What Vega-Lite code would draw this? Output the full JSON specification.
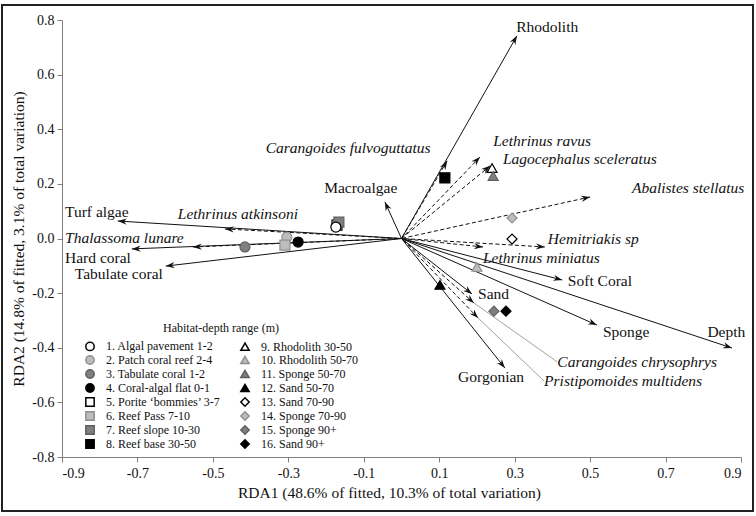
{
  "$schema": "https://vega.github.io/schema/vega-lite/v6.json",
  "width": 751,
  "height": 506,
  "autosize": {"type": "none"},
  "padding": {"left": 2, "top": 5, "right": 3, "bottom": 5},
  "background": "white",
  "config": {
    "view": {"stroke": "#222222", "strokeWidth": 2},
    "font": "Liberation Serif",
    "axis": {
      "grid": false,
      "domainColor": "#808080",
      "tickColor": "#808080",
      "tickSize": 5,
      "labelFont": "Liberation Serif",
      "labelFontSize": 14,
      "labelColor": "#111111",
      "titleFont": "Liberation Serif",
      "titleFontSize": 15.5,
      "titleFontWeight": "normal",
      "titleColor": "#111111"
    }
  },
  "datasets": {
    "vectors": [
      {"name": "Rhodolith", "kind": "env", "x": 0.306, "y": 0.742, "lx": 0.304, "ly": 0.775, "leader": false},
      {"name": "Macroalgae", "kind": "env", "x": -0.044, "y": 0.134, "lx": -0.205, "ly": 0.185, "leader": false},
      {"name": "Turf algae", "kind": "env", "x": -0.752, "y": 0.064, "lx": -0.892, "ly": 0.097, "leader": false},
      {"name": "Hard coral", "kind": "env", "x": -0.715, "y": -0.038, "lx": -0.892, "ly": -0.071, "leader": false},
      {"name": "Tabulate coral", "kind": "env", "x": -0.625, "y": -0.101, "lx": -0.866, "ly": -0.13, "leader": false},
      {"name": "Soft Coral", "kind": "env", "x": 0.426, "y": -0.152, "lx": 0.441, "ly": -0.156, "leader": false},
      {"name": "Sponge", "kind": "env", "x": 0.518, "y": -0.317, "lx": 0.534, "ly": -0.342, "leader": false},
      {"name": "Depth", "kind": "env", "x": 0.876, "y": -0.401, "lx": 0.811, "ly": -0.342, "leader": false},
      {"name": "Gorgonian", "kind": "env", "x": 0.274, "y": -0.474, "lx": 0.15, "ly": -0.507, "leader": false},
      {"name": "Sand", "kind": "env", "x": 0.187, "y": -0.203, "lx": 0.203, "ly": -0.203, "leader": false},
      {"name": "Carangoides fulvoguttatus", "kind": "species", "x": 0.121, "y": 0.284, "lx": -0.36, "ly": 0.332, "leader": false},
      {"name": "Lethrinus ravus", "kind": "species", "x": 0.208, "y": 0.298, "lx": 0.243, "ly": 0.357, "leader": false},
      {"name": "Lagocephalus sceleratus", "kind": "species", "x": 0.235, "y": 0.266, "lx": 0.269, "ly": 0.291, "leader": false},
      {"name": "Abalistes stellatus", "kind": "species", "x": 0.5, "y": 0.152, "lx": 0.611, "ly": 0.185, "leader": false},
      {"name": "Hemitriakis sp", "kind": "species", "x": 0.38, "y": -0.031, "lx": 0.388, "ly": 0.0, "leader": false},
      {"name": "Lethrinus miniatus", "kind": "species", "x": 0.216, "y": -0.031, "lx": 0.216, "ly": -0.07, "leader": false},
      {"name": "Lethrinus atkinsoni", "kind": "species", "x": -0.468, "y": 0.035, "lx": -0.593, "ly": 0.09, "leader": false},
      {"name": "Thalassoma lunare", "kind": "species", "x": -0.553, "y": -0.031, "lx": -0.892, "ly": 0.002, "leader": false},
      {"name": "Carangoides chrysophrys", "kind": "species", "x": 0.192, "y": -0.236, "lx": 0.413, "ly": -0.452, "leader": true},
      {"name": "Pristipomoides multidens", "kind": "species", "x": 0.203, "y": -0.291, "lx": 0.378, "ly": -0.522, "leader": true}
    ],
    "sites": [
      {"site": "5. Porite ‘bommies’ 3-7", "x": -0.171, "y": 0.049},
      {"site": "7. Reef slope 10-30", "x": -0.166, "y": 0.06},
      {"site": "1. Algal pavement 1-2", "x": -0.174, "y": 0.042},
      {"site": "2. Patch coral reef 2-4", "x": -0.304, "y": 0.005},
      {"site": "6. Reef Pass 7-10", "x": -0.309, "y": -0.024},
      {"site": "4. Coral-algal flat 0-1", "x": -0.274, "y": -0.013},
      {"site": "3. Tabulate coral 1-2", "x": -0.415, "y": -0.031},
      {"site": "8. Reef base 30-50", "x": 0.115, "y": 0.222},
      {"site": "9. Rhodolith 30-50", "x": 0.24, "y": 0.258},
      {"site": "11. Sponge 50-70", "x": 0.243, "y": 0.229},
      {"site": "10. Rhodolith 50-70", "x": 0.2, "y": -0.104},
      {"site": "12. Sand 50-70", "x": 0.102, "y": -0.17},
      {"site": "13. Sand 70-90", "x": 0.293, "y": -0.002},
      {"site": "14. Sponge 70-90", "x": 0.293, "y": 0.075},
      {"site": "15. Sponge 90+", "x": 0.245, "y": -0.266},
      {"site": "16. Sand 90+", "x": 0.277, "y": -0.266}
    ]
  },
  "layer": [
    {
      "data": {"name": "vectors"},
      "transform": [{"filter": "datum.kind === 'env'"}],
      "mark": {"type": "rule", "color": "#111111", "strokeWidth": 1},
      "encoding": {
        "x": {
          "field": "x", "type": "quantitative",
          "scale": {"domain": [-0.9, 0.9], "range": [60, 739], "nice": false, "zero": false},
          "axis": {
            "title": "RDA1 (48.6% of fitted, 10.3% of total variation)",
            "values": [-0.9, -0.7, -0.5, -0.3, -0.1, 0.1, 0.3, 0.5, 0.7, 0.9],
            "labelExpr": "replace(format(datum.value, '.1f'), '\u2212', '-')",
            "offset": -54,
            "labelPadding": 4,
            "titlePadding": 5,
            "titleX": 387
          }
        },
        "x2": {"datum": 0},
        "y": {
          "field": "y", "type": "quantitative",
          "scale": {"domain": [-0.8, 0.8], "range": [452, 15], "nice": false, "zero": false},
          "axis": {
            "title": "RDA2 (14.8% of fitted, 3.1% of total variation)",
            "values": [-0.8, -0.6, -0.4, -0.2, 0, 0.2, 0.4, 0.6, 0.8],
            "labelExpr": "replace(format(datum.value, '.1f'), '\u2212', '-')",
            "offset": -60,
            "labelPadding": 3,
            "titlePadding": 5
          }
        },
        "y2": {"datum": 0}
      }
    },
    {
      "data": {"name": "vectors"},
      "transform": [{"filter": "datum.kind === 'species'"}],
      "mark": {"type": "rule", "color": "#111111", "strokeWidth": 1, "strokeDash": [4, 2.5]},
      "encoding": {
        "x": {"field": "x", "type": "quantitative"},
        "x2": {"datum": 0},
        "y": {"field": "y", "type": "quantitative"},
        "y2": {"datum": 0}
      }
    },
    {
      "data": {"name": "vectors"},
      "transform": [{"filter": "datum.leader"}],
      "mark": {"type": "rule", "color": "#8a8a8a", "strokeWidth": 0.8},
      "encoding": {
        "x": {"field": "x", "type": "quantitative"},
        "x2": {"field": "lx"},
        "y": {"field": "y", "type": "quantitative"},
        "y2": {"field": "ly"}
      }
    },
    {
      "data": {"name": "vectors"},
      "transform": [{"calculate": "atan2(datum.x * 377.2, datum.y * 273) * 180 / PI", "as": "ang"}],
      "mark": {"type": "point", "shape": "M0,0L-0.6,1.7L0,1.15L0.6,1.7Z", "filled": true, "color": "#111111", "size": 110, "opacity": 1, "strokeWidth": 0},
      "encoding": {
        "x": {"field": "x", "type": "quantitative"},
        "y": {"field": "y", "type": "quantitative"},
        "angle": {"field": "ang", "type": "quantitative", "scale": null}
      }
    },
    {
      "data": {"name": "vectors"},
      "transform": [{"filter": "datum.kind === 'env'"}],
      "mark": {"type": "text", "align": "left", "baseline": "middle", "fontSize": 15.5, "font": "Liberation Serif", "color": "#111111"},
      "encoding": {
        "x": {"field": "lx", "type": "quantitative"},
        "y": {"field": "ly", "type": "quantitative"},
        "text": {"field": "name"}
      }
    },
    {
      "data": {"name": "vectors"},
      "transform": [{"filter": "datum.kind === 'species'"}],
      "mark": {"type": "text", "align": "left", "baseline": "middle", "fontSize": 15.5, "font": "Liberation Serif", "fontStyle": "italic", "color": "#111111"},
      "encoding": {
        "x": {"field": "lx", "type": "quantitative"},
        "y": {"field": "ly", "type": "quantitative"},
        "text": {"field": "name"}
      }
    },
    {
      "data": {"name": "sites"},
      "mark": {"type": "point", "filled": true, "size": 100, "strokeWidth": 1.2, "opacity": 1},
      "encoding": {
        "x": {"field": "x", "type": "quantitative"},
        "y": {"field": "y", "type": "quantitative"},
        "shape": {
          "field": "site", "type": "nominal",
          "scale": {
            "domain": ["1. Algal pavement 1-2", "2. Patch coral reef 2-4", "3. Tabulate coral 1-2", "4. Coral-algal flat 0-1", "5. Porite ‘bommies’ 3-7", "6. Reef Pass 7-10", "7. Reef slope 10-30", "8. Reef base 30-50", "9. Rhodolith 30-50", "10. Rhodolith 50-70", "11. Sponge 50-70", "12. Sand 50-70", "13. Sand 70-90", "14. Sponge 70-90", "15. Sponge 90+", "16. Sand 90+"],
            "range": ["circle", "circle", "circle", "circle", "square", "square", "square", "square", "triangle-up", "triangle-up", "triangle-up", "triangle-up", "diamond", "diamond", "diamond", "diamond"]
          },
          "legend": {
            "title": "Habitat-depth range (m)",
            "orient": "none",
            "legendX": 82,
            "legendY": 318,
            "columns": 2,
            "padding": 0,
            "titleAnchor": "middle",
            "titleFont": "Liberation Serif",
            "titleFontSize": 12,
            "titleFontWeight": "normal",
            "titleColor": "#111111",
            "titlePadding": 5,
            "labelFont": "Liberation Serif",
            "labelFontSize": 12,
            "labelColor": "#111111",
            "labelOffset": 10,
            "labelLimit": 300,
            "symbolSize": 70,
            "symbolStrokeWidth": 1.5,
            "columnPadding": 16,
            "rowPadding": -2.5
          }
        },
        "fill": {
          "field": "site", "type": "nominal",
          "scale": {
            "domain": ["1. Algal pavement 1-2", "2. Patch coral reef 2-4", "3. Tabulate coral 1-2", "4. Coral-algal flat 0-1", "5. Porite ‘bommies’ 3-7", "6. Reef Pass 7-10", "7. Reef slope 10-30", "8. Reef base 30-50", "9. Rhodolith 30-50", "10. Rhodolith 50-70", "11. Sponge 50-70", "12. Sand 50-70", "13. Sand 70-90", "14. Sponge 70-90", "15. Sponge 90+", "16. Sand 90+"],
            "range": ["#ffffff", "#bdbdbd", "#7f7f7f", "#000000", "#ffffff", "#bdbdbd", "#7f7f7f", "#000000", "#ffffff", "#bdbdbd", "#7f7f7f", "#000000", "#ffffff", "#bdbdbd", "#7f7f7f", "#000000"]
          },
          "legend": {"title": "Habitat-depth range (m)"}
        },
        "stroke": {
          "field": "site", "type": "nominal",
          "scale": {
            "domain": ["1. Algal pavement 1-2", "2. Patch coral reef 2-4", "3. Tabulate coral 1-2", "4. Coral-algal flat 0-1", "5. Porite ‘bommies’ 3-7", "6. Reef Pass 7-10", "7. Reef slope 10-30", "8. Reef base 30-50", "9. Rhodolith 30-50", "10. Rhodolith 50-70", "11. Sponge 50-70", "12. Sand 50-70", "13. Sand 70-90", "14. Sponge 70-90", "15. Sponge 90+", "16. Sand 90+"],
            "range": ["#000000", "#8f8f8f", "#5f5f5f", "#000000", "#000000", "#8f8f8f", "#5f5f5f", "#000000", "#000000", "#8f8f8f", "#5f5f5f", "#000000", "#000000", "#8f8f8f", "#5f5f5f", "#000000"]
          },
          "legend": {"title": "Habitat-depth range (m)"}
        }
      }
    }
  ]
}
